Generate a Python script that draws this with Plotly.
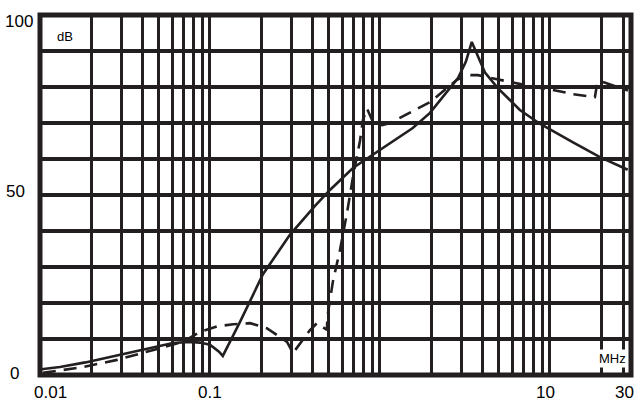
import numpy as np
import plotly.graph_objects as go

# ---- data ----
solid_f = [0.0102, 0.0131, 0.0185, 0.0388, 0.0606, 0.0763, 0.0873, 0.100, 0.106, 0.113, 0.119,
           0.150, 0.205, 0.296, 0.415, 0.508, 0.694, 1.04, 1.56, 1.97, 2.41, 2.88, 3.20, 3.47,
           4.15, 4.94, 6.66, 8.73, 13.6, 19.7, 28.7]
solid_db = [1.6, 2.2, 3.5, 6.9, 8.9, 9.2, 9.0, 8.4, 7.6, 6.5, 5.3,
            14.7, 28.0, 39.0, 47.0, 51.4, 57.5, 63.0, 68.6, 72.8, 77.8, 82.5, 87.0, 92.5,
            84.0, 79.7, 73.6, 69.8, 64.7, 60.5, 57.0]

dash_f = [0.0104, 0.0179, 0.0284, 0.0388, 0.0529, 0.0694, 0.0873, 0.110, 0.137, 0.172, 0.216,
          0.284, 0.308, 0.388, 0.426, 0.488, 0.490, 0.529, 0.582, 0.640, 0.694, 0.763, 0.794,
          0.839, 0.910, 1.03, 1.15, 1.50, 1.97, 2.84, 3.25, 3.77, 4.62, 5.82, 8.16, 10.4,
          13.7, 18.4, 19.0, 20.5, 28.8]
dash_db = [0.6, 2.2, 4.2, 5.9, 7.8, 9.2, 12.0, 13.5, 14.1, 14.4, 13.0,
           9.2, 6.1, 12.5, 14.4, 12.5, 16.0, 26.0, 34.7, 45.0, 55.0, 65.0, 70.8,
           74.0, 70.3, 69.4, 70.0, 72.8, 75.8, 82.0, 83.3, 83.3, 82.5, 81.4, 80.0, 79.2,
           78.0, 77.2, 81.2, 81.4, 79.0]

# grid positions (MHz)
x_grid = [0.01, 0.02, 0.03, 0.04, 0.05, 0.06, 0.07, 0.08, 0.09,
          0.1, 0.2, 0.3, 0.4, 0.5, 0.6, 0.7, 0.8, 0.9,
          1, 2, 3, 4, 5, 6, 7, 8, 9,
          10, 20, 27, 30]
x_tick_vals = [0.01, 0.1, 10, 30]
x_tick_text = ["0.01", "0.1", "10", "30"]
y_tick_vals = [0, 50, 100]
y_tick_text = ["0", "50", "100"]

INK = "#231f20"
FONT = "Arial, Liberation Sans, sans-serif"

fig = go.Figure()
fig.add_trace(go.Scatter(x=solid_f, y=solid_db, mode="lines",
                         line=dict(color=INK, width=2.6), showlegend=False))
fig.add_trace(go.Scatter(x=dash_f, y=dash_db, mode="lines",
                         line=dict(color=INK, width=2.6, dash="13px,8px"), showlegend=False))

fig.update_layout(
    width=641, height=405,
    margin=dict(l=40, r=10, t=15, b=30),
    paper_bgcolor="white", plot_bgcolor="white",
    xaxis=dict(type="log", range=[-2, np.log10(30)], tickvals=x_grid,
               showticklabels=False, ticks="", showgrid=True, gridcolor=INK,
               gridwidth=3, zeroline=False, showline=False, fixedrange=True),
    yaxis=dict(range=[0, 100], dtick=10, showticklabels=False, ticks="",
               showgrid=True, gridcolor=INK, gridwidth=4, zeroline=False,
               showline=False, fixedrange=True),
    shapes=[dict(type="rect", xref="paper", yref="paper", x0=0, x1=1, y0=0, y1=1,
                 line=dict(color=INK, width=5), layer="above")],
)

# x tick labels
x_shift = {0.01: 10, 0.1: 0, 10: -4, 30: -7}
for v, t in zip(x_tick_vals, x_tick_text):
    fig.add_annotation(x=np.log10(v), xref="x", y=0, yref="paper", text=t,
                       showarrow=False, xanchor="center", yanchor="middle",
                       xshift=x_shift[v], yshift=-17,
                       font=dict(family=FONT, size=17, color="black"))

# y tick labels
y_pos = {0: (-32, 1.5), 50: (-36, 3.5), 100: (-37, -6)}
for v, t in zip(y_tick_vals, y_tick_text):
    dx, dy = y_pos[v]
    fig.add_annotation(x=0, xref="paper", y=v, yref="y", text=t, showarrow=False,
                       xanchor="left", yanchor="middle", xshift=dx, yshift=dy,
                       font=dict(family=FONT, size=17, color="black"))

fig.add_annotation(x=0.0423, y=0.939, xref="paper", yref="paper", text="dB",
                   showarrow=False, xanchor="center", yanchor="middle",
                   font=dict(family=FONT, size=13, color="black"))
fig.add_annotation(x=0.9687, y=0.0458, xref="paper", yref="paper", text="MHz",
                   showarrow=False, xanchor="center", yanchor="middle",
                   bgcolor="white", borderpad=1,
                   font=dict(family=FONT, size=13, color="black"))

fig.write_html("out.html",
               config={"displayModeBar": False, "staticPlot": True},
               post_script="document.body.style.margin='0';document.body.style.overflow='hidden';")
